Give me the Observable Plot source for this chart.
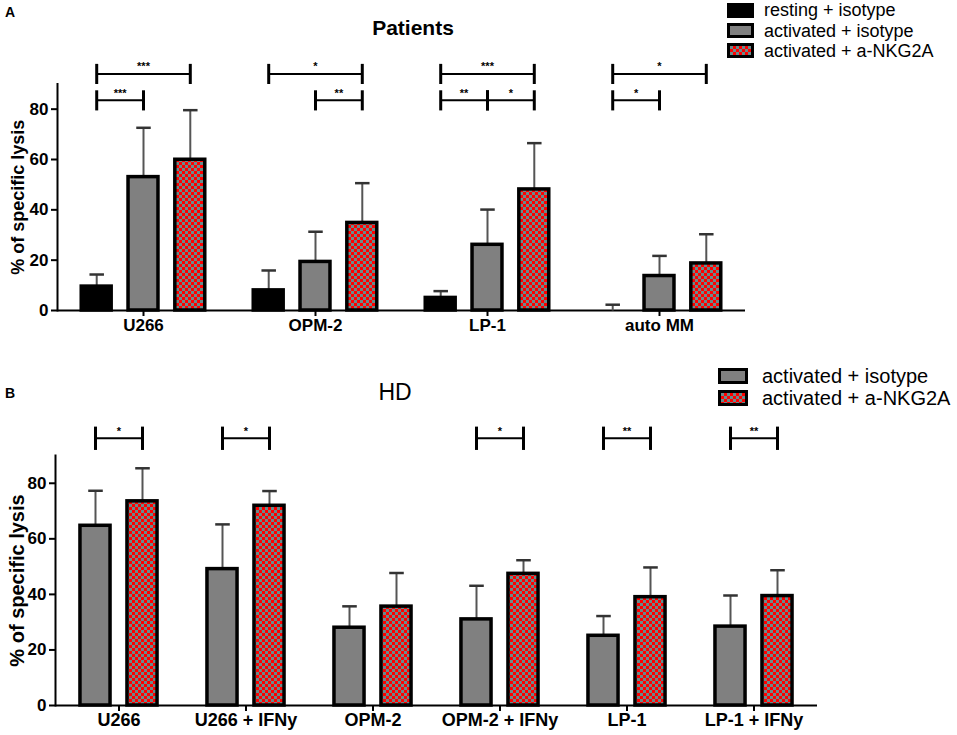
<!DOCTYPE html>
<html><head><meta charset="utf-8">
<script src="https://cdn.jsdelivr.net/npm/d3@7"></script>
<script src="https://cdn.jsdelivr.net/npm/@observablehq/plot@0.6"></script>
<style>
body{margin:0;background:#fff;}
#wrap{position:relative;width:957px;height:735px;font-family:"Liberation Sans",Arial,sans-serif;overflow:hidden;background:#fff;color:#000}
.abs{position:absolute;white-space:nowrap;line-height:1}
.plot{position:absolute;left:0}
.leg{position:absolute;display:flex;align-items:center;white-space:nowrap;line-height:1}
</style></head><body>
<svg width="0" height="0" style="position:absolute">
<defs><pattern id="checker" width="6" height="6" patternUnits="userSpaceOnUse">
<rect width="6" height="6" fill="#ff0000"/><rect width="3" height="3" fill="#6a8a8a"/><rect x="3" y="3" width="3" height="3" fill="#6a8a8a"/></pattern></defs></svg>
<div id="wrap"></div>
<script>
// ---------- Panel A: Patients ----------
const groupsA = ["U266", "OPM-2", "LP-1", "auto MM"];
const seriesA = ["resting + isotype", "activated + isotype", "activated + a-NKG2A"];
const restingA = [9.5, 8.0, 5.0, 0];
const restingSdA = [4.8, 7.9, 2.7, 2.3];
const activatedA = [53.0, 19.3, 26.1, 13.7];
const activatedSdA = [19.6, 12.0, 14.0, 8.0];
const nkg2aA = [59.9, 34.8, 48.1, 18.7];
const nkg2aSdA = [19.7, 15.8, 18.4, 11.6];
const sigGroupA = ["U266", "U266", "OPM-2", "OPM-2", "LP-1", "LP-1", "LP-1", "auto MM", "auto MM"];
const sigFromA = [0, 0, 0, 1, 0, 0, 1, 0, 0];
const sigToA = [2, 1, 2, 2, 2, 1, 2, 2, 1];
const sigRowA = ["upper", "lower", "upper", "lower", "upper", "lower", "lower", "upper", "lower"];
const sigTextA = ["***", "***", "*", "**", "***", "**", "*", "*", "*"];

// ---------- Panel B: HD ----------
const groupsB = ["U266", "U266 + IFNy", "OPM-2", "OPM-2 + IFNy", "LP-1", "LP-1 + IFNy"];
const seriesB = ["activated + isotype", "activated + a-NKG2A"];
const activatedB = [64.7, 49.1, 28.0, 31.0, 25.1, 28.4];
const activatedSdB = [12.6, 16.1, 7.7, 12.1, 7.1, 11.2];
const nkg2aB = [73.5, 71.9, 35.6, 47.4, 39.0, 39.4];
const nkg2aSdB = [11.9, 5.3, 12.1, 4.9, 10.7, 9.3];
const sigGroupB = ["U266", "U266 + IFNy", "OPM-2 + IFNy", "LP-1", "LP-1 + IFNy"];
const sigFromB = [0, 0, 0, 0, 0];
const sigToB = [1, 1, 1, 1, 1];
const sigRowB = ["upper", "upper", "upper", "upper", "upper"];
const sigTextB = ["*", "*", "*", "**", "**"];

const yTicks = [0, 20, 40, 60, 80];
const FONT = '"Liberation Sans", Arial, sans-serif';
const fillMap = {
  "resting + isotype": "#000000",
  "activated + isotype": "#808080",
  "activated + a-NKG2A": "url(#checker)"
};

function panel(o) {
  const bars = [];
  o.groups.forEach((g, gi) => o.series.forEach((s, si) => {
    bars.push({group: g, series: s, si, value: o.means[si][gi], sd: o.sds[si][gi]});
  }));
  const sig = o.sigGroup.map((g, k) => ({
    group: g, from: o.sigFrom[k], to: o.sigTo[k],
    level: o.levels[o.sigRow[k]], text: o.sigText[k]
  }));
  const ends = sig.flatMap(d => [{...d, xe: d.from}, {...d, xe: d.to}]);
  const hw = 0.32, cap = 0.155;
  return Plot.plot({
    width: 957, height: o.height,
    marginLeft: 55, marginRight: o.marginRight, marginTop: o.marginTop, marginBottom: o.marginBottom,
    style: {fontFamily: FONT, background: "transparent", overflow: "visible", color: "#000"},
    fx: {domain: o.groups, padding: 0, axis: null, label: null},
    x: {domain: o.xDomain, axis: null},
    y: {domain: [0, 90], axis: null},
    marks: [
      Plot.axisFx({anchor: "bottom", tickSize: 6, tickPadding: 2, strokeWidth: 2, label: null,
        fontSize: o.fxFont, fontWeight: "bold"}),
      Plot.axisY({ticks: yTicks, tickSize: 6, tickPadding: 3, strokeWidth: 2,
        fontSize: o.yFont, fontWeight: "bold",
        label: "% of specific lysis", labelAnchor: "center", labelArrow: "none", labelOffset: o.labelOffset}),
      Plot.frame({anchor: "left", facetAnchor: "left", strokeWidth: 2}),
      Plot.ruleY([0], {strokeWidth: 2}),
      // error bars (upper whisker)
      Plot.link(bars, {fx: "group", x1: "si", x2: "si", y1: "value", y2: d => d.value + d.sd,
        stroke: "#555", strokeWidth: 2}),
      Plot.link(bars, {fx: "group", x1: d => d.si - cap, x2: d => d.si + cap,
        y1: d => d.value + d.sd, y2: d => d.value + d.sd, stroke: "#333", strokeWidth: 2.5}),
      // bars
      ...o.series.map((s, si) => Plot.rect(bars.filter(d => d.si === si && d.value > 0), {
        fx: "group", x1: d => d.si - hw, x2: d => d.si + hw, y1: 0, y2: "value",
        fill: fillMap[s], stroke: "#000", strokeWidth: 3.5
      })),
      // significance brackets
      Plot.link(sig, {fx: "group", x1: "from", x2: "to", y1: "level", y2: "level", stroke: "#000", strokeWidth: 2}),
      Plot.link(ends, {fx: "group", x1: "xe", x2: "xe", y1: d => d.level - o.capH, y2: d => d.level + o.capH,
        stroke: "#000", strokeWidth: 3}),
      Plot.text(sig, {fx: "group", x: d => (d.from + d.to) / 2, y: "level", text: "text", dy: -7,
        fontSize: 11, fontWeight: "bold"})
    ]
  });
}

const wrap = document.getElementById("wrap");

const plotA = panel({
  groups: groupsA, series: seriesA,
  means: [restingA, activatedA, nkg2aA], sds: [restingSdA, activatedSdA, nkg2aSdA],
  sigGroup: sigGroupA, sigFrom: sigFromA, sigTo: sigToA, sigRow: sigRowA, sigText: sigTextA,
  levels: {upper: 94, lower: 83.5}, capH: 4,
  height: 345, marginRight: 211, marginTop: 83.5, marginBottom: 35,
  xDomain: [-0.838, 2.838], fxFont: 17, yFont: 17, labelOffset: 46
});
plotA.classList.add("plot"); plotA.style.top = "0px";
wrap.appendChild(plotA);

const plotB = panel({
  groups: groupsB, series: seriesB,
  means: [activatedB, nkg2aB], sds: [activatedSdB, nkg2aSdB],
  sigGroup: sigGroupB, sigFrom: sigFromB, sigTo: sigToB, sigRow: sigRowB, sigText: sigTextB,
  levels: {upper: 96.2}, capH: 4.2,
  height: 390, marginRight: 140, marginTop: 110, marginBottom: 30,
  xDomain: [-0.851, 1.851], fxFont: 18, yFont: 17, labelOffset: 46
});
plotB.classList.add("plot"); plotB.style.top = "345px";
wrap.appendChild(plotB);

// y-axis label sizes per panel
plotA.querySelectorAll('[aria-label="y-axis label"] text, [aria-label="y-axis label"]').forEach(e => e.setAttribute("font-size", 18));
plotB.querySelectorAll('[aria-label="y-axis label"] text, [aria-label="y-axis label"]').forEach(e => e.setAttribute("font-size", 20));

function addText(txt, x, y, size, weight, anchor) {
  const d = document.createElement("div");
  d.className = "abs";
  d.textContent = txt;
  d.style.left = x + "px"; d.style.top = y + "px";
  d.style.fontSize = size + "px"; d.style.fontWeight = weight;
  d.style.transform = anchor === "middle" ? "translate(-50%,-50%)" : "translate(0,-50%)";
  wrap.appendChild(d);
}
addText("A", 5, 12, 14, "bold", "start");
addText("Patients", 413, 27, 21, "bold", "middle");
addText("B", 5, 393, 14, "bold", "start");
addText("HD", 395, 392, 23, "normal", "middle");

function legend(series, x, tx, ys, w, h, size) {
  series.forEach((s, k) => {
    const row = document.createElement("div");
    row.className = "leg";
    row.style.left = x + "px"; row.style.top = (ys[k] - h / 2) + "px"; row.style.height = h + "px";
    const sw = document.createElementNS("http://www.w3.org/2000/svg", "svg");
    sw.setAttribute("width", w); sw.setAttribute("height", h);
    sw.innerHTML = `<rect x="1.5" y="1.5" width="${w - 3}" height="${h - 3}" fill="${fillMap[s]}" stroke="#000" stroke-width="3"/>`;
    row.appendChild(sw);
    const t = document.createElement("span");
    t.textContent = s;
    t.style.fontSize = size + "px";
    t.style.marginLeft = (tx - x - w) + "px";
    row.appendChild(t);
    wrap.appendChild(row);
  });
}
legend(seriesA, 727, 764, [10, 30.5, 50.5], 27, 15, 18);
legend(seriesB, 718, 762, [376, 398], 30, 16, 20);
</script>
</body></html>
